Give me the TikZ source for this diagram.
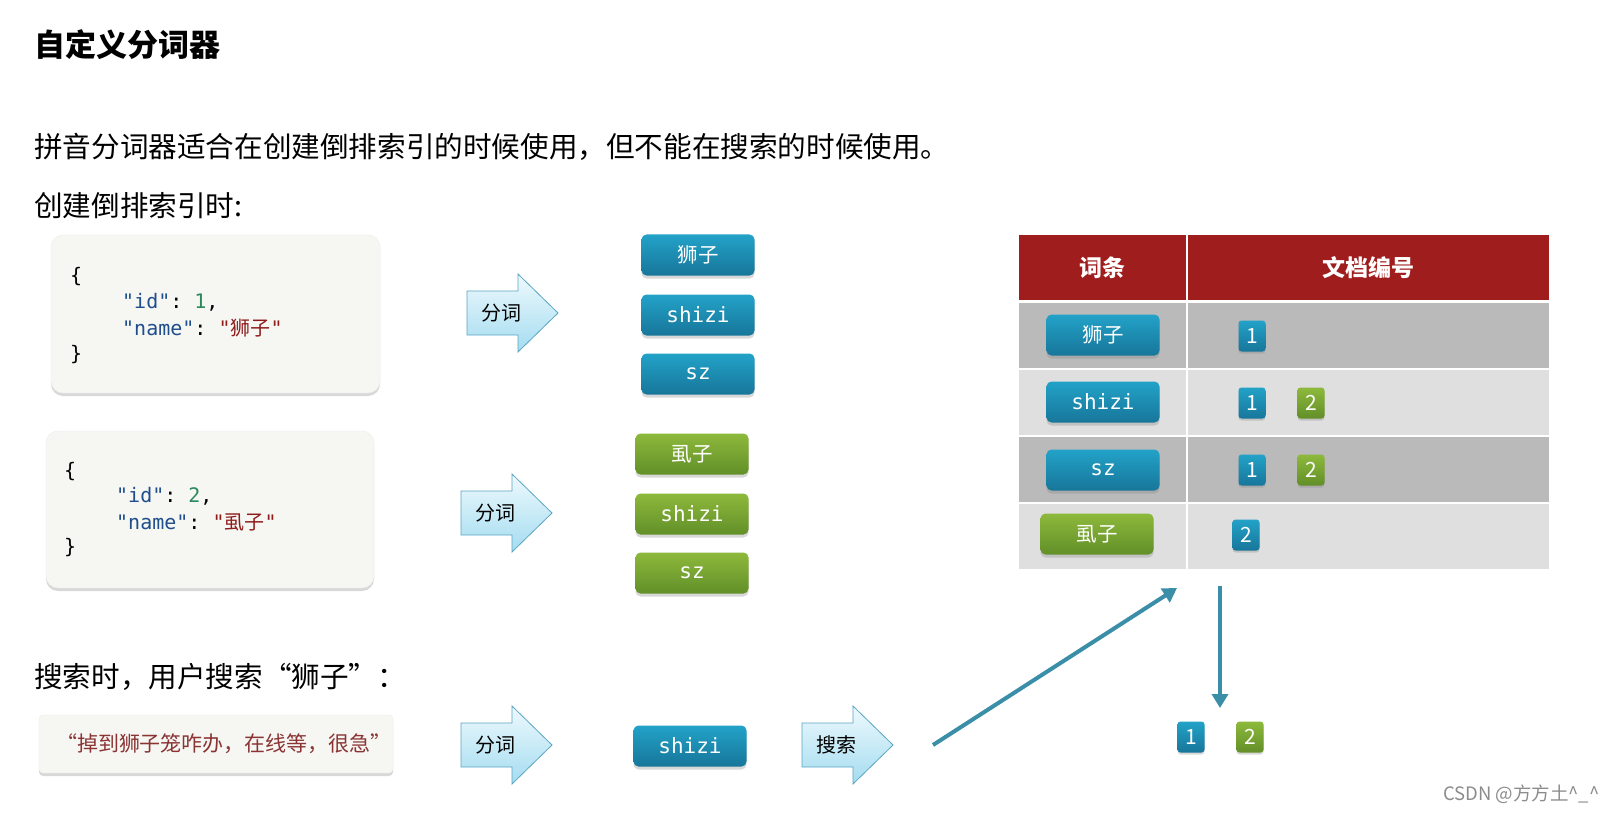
\documentclass[tikz,border=0pt]{standalone}
\usepackage{fontspec}
\setmainfont{Noto Sans CJK SC}
\setmonofont{DejaVu Sans Mono}
\usepackage{tikz}
\usetikzlibrary{arrows.meta, shadows, calc}

\definecolor{tokblueT}{HTML}{23A2C8}
\definecolor{tokblueB}{HTML}{17769A}
\definecolor{tokgreenT}{HTML}{8DB93C}
\definecolor{tokgreenB}{HTML}{628F28}
\definecolor{hdrred}{HTML}{A01D1D}
\definecolor{rowdark}{HTML}{BABABA}
\definecolor{rowlight}{HTML}{DFDFDF}
\definecolor{arrowT}{HTML}{EEF9FD}
\definecolor{arrowB}{HTML}{A4DCF0}
\definecolor{arrowline}{HTML}{5AA6C2}
\definecolor{codebg}{HTML}{F6F6F3}
\definecolor{jkey}{HTML}{1F4E8C}
\definecolor{jnum}{HTML}{2B8A5C}
\definecolor{jstr}{HTML}{8E1B1B}
\definecolor{flowteal}{HTML}{3A8EA8}
\definecolor{querytxt}{HTML}{8A3434}

% split arrow: name, left x, centre y, label
\newcommand{\cutarrow}[4]{%
  \shadedraw[top color=arrowT, bottom color=arrowB, draw=arrowline, line width=0.8pt]
    (#2,#3-22) -- ++(51,0) -- ++(0,-17) -- (#2+91,#3) -- (#2+51,#3+39) -- ++(0,-17) -- (#2,#3+22) -- cycle;
  \node[font=\fontsize{20}{24}\selectfont, inner sep=0pt] (#1) at (#2+34,#3) {#4};}

\newcommand{\jk}[1]{\textcolor{jkey}{#1}}
\newcommand{\jn}[1]{\textcolor{jnum}{#1}}
\newcommand{\js}[1]{\textcolor{jstr}{#1}}

\begin{document}
\begin{tikzpicture}[
        x=1pt, y=-1pt,
        >=Stealth,
        every node/.style={align=center},
        body/.style={anchor=west, inner sep=0pt, font=\fontsize{28.6}{34}\selectfont},
        codebox/.style={fill=codebg, draw=black!7, drop shadow={shadow xshift=0pt, shadow yshift=-3pt, opacity=0.3}},
        codeline/.style={anchor=west, inner sep=0pt, font=\ttfamily\fontsize{20}{24}\selectfont},
        token/.style={rounded corners=5pt, minimum width=113pt, minimum height=41pt, inner sep=0pt, text=white,
            drop shadow={shadow xshift=0pt, shadow yshift=-3pt, opacity=0.3}},
        blue token/.style={token, top color=tokblueT, bottom color=tokblueB},
        green token/.style={token, top color=tokgreenT, bottom color=tokgreenB},
        tt/.style={font=\ttfamily\fontsize{21}{24}\selectfont},
        cj/.style={font=\fontsize{20.5}{24}\selectfont},
        numsq/.style={rounded corners=3pt, minimum width=27pt, minimum height=31pt, inner sep=0pt, text=white,
            font=\fontsize{21}{24}\selectfont, drop shadow={shadow xshift=0pt, shadow yshift=-2pt, opacity=0.3}},
        blue num/.style={numsq, top color=tokblueT, bottom color=tokblueB},
        green num/.style={numsq, top color=tokgreenT, bottom color=tokgreenB},
        flow/.style={->, flowteal, line width=4pt, >={Triangle[length=14pt, width=16pt]}}
    ]

    % Canvas
    \fill[white] (0,0) rectangle (1617,813);
    \useasboundingbox (0,0) rectangle (1617,813);

    % --- Headings ---
    \node[body, font=\bfseries\fontsize{31}{36}\selectfont] (title) at (34,45) {自定义分词器};
    \node[body] (intro) at (34,147) {拼音分词器适合在创建倒排索引的时候使用，但不能在搜索的时候使用。};
    \node[body] (idxhead) at (34,206) {创建倒排索引时:};
    \node[body] (qhead) at (34,677) {搜索时，用户搜索“狮子”：};

    % --- Documents ---
    \path[codebox, rounded corners=12pt] (51,235) rectangle (380,393);
    \node[codeline] (dA0) at (70,277) {\{};
    \node[codeline] (dA1) at (122,302) {\jk{"id"}: \jn{1},};
    \node[codeline] (dA2) at (122,328) {\jk{"name"}: \js{"{\rmfamily 狮子}"}};
    \node[codeline] (dA3) at (70,355) {\}};

    \path[codebox, rounded corners=12pt] (46,431) rectangle (374,588);
    \node[codeline] (dB0) at (64,472) {\{};
    \node[codeline] (dB1) at (116,496) {\jk{"id"}: \jn{2},};
    \node[codeline] (dB2) at (116,522) {\jk{"name"}: \js{"{\rmfamily 虱子}"}};
    \node[codeline] (dB3) at (64,548) {\}};

    % --- Split arrows ---
    \cutarrow{cutA}{467}{313}{分词}
    \cutarrow{cutB}{461}{513}{分词}
    \cutarrow{cutQ}{461}{745}{分词}
    \cutarrow{search}{802}{745}{搜索}

    % --- Tokens ---
    \node[blue token, cj] (tA1) at (698,255) {狮子};
    \node[blue token, tt] (tA2) at (698,315) {shizi};
    \node[blue token, tt] (tA3) at (698,374) {sz};
    \node[green token, cj] (tB1) at (692,454) {虱子};
    \node[green token, tt] (tB2) at (692,514) {shizi};
    \node[green token, tt] (tB3) at (692,573) {sz};

    % --- Inverted index table ---
    \fill[hdrred] (1019,235) rectangle (1549,300);
    \fill[rowdark] (1019,303) rectangle (1549,368);
    \fill[rowlight] (1019,370) rectangle (1549,435);
    \fill[rowdark] (1019,437) rectangle (1549,502);
    \fill[rowlight] (1019,504) rectangle (1549,569);
    \draw[white, line width=2.5pt] (1187,235) -- (1187,569);
    \node[text=white, font=\bfseries\fontsize{23}{28}\selectfont] (colterm) at (1102,268) {词条};
    \node[text=white, font=\bfseries\fontsize{23}{28}\selectfont] (coldoc) at (1368,268) {文档编号};

    \node[blue token, cj] (r1) at (1103,335) {狮子};
    \node[blue token, tt] (r2) at (1103,402) {shizi};
    \node[blue token, tt] (r3) at (1103,470) {sz};
    \node[green token, cj] (r4) at (1097,534) {虱子};

    \node[blue num] (r1a) at (1252,336) {1};
    \node[blue num] (r2a) at (1252,403) {1};
    \node[green num] (r2b) at (1311,403) {2};
    \node[blue num] (r3a) at (1252,470) {1};
    \node[green num] (r3b) at (1311,470) {2};
    \node[blue num] (r4a) at (1246,535) {2};

    % --- Query ---
    \path[codebox, rounded corners=4pt] (39,715) rectangle (393,773);
    \node[text=querytxt, font=\fontsize{21}{24}\selectfont] (query) at (224,744) {“掉到狮子笼咋办，在线等，很急”};
    \node[blue token, tt] (qtok) at (690,746) {shizi};

    % --- Lookup result ---
    \node[blue num] (hit1) at (1191,737) {1};
    \node[green num] (hit2) at (1250,737) {2};

    \coordinate (lookfrom) at (933,745);
    \coordinate (lookto) at (1177,588);
    \coordinate (tblfoot) at (1220,586);
    \coordinate (hittop) at (1220,708);
    \draw[flow] (lookfrom) -- (lookto);
    \draw[flow] (tblfoot) -- (hittop);

    % Watermark
    \node[text=black!45, font=\fontsize{18.5}{22}\selectfont, anchor=east] (mark) at (1603,794) {CSDN @方方土\textasciicircum\_\textasciicircum};

\end{tikzpicture}
\end{document}
